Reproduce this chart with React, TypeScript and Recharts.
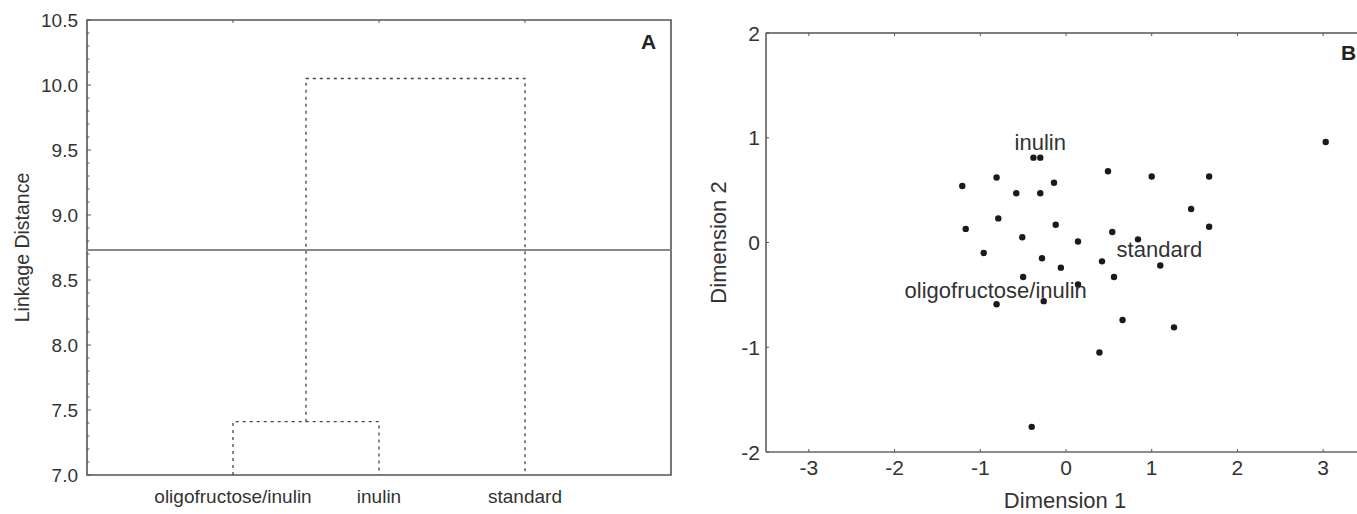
import React from "react";
import {
  LineChart,
  Line,
  XAxis,
  YAxis,
  ReferenceLine,
  ReferenceArea,
  ScatterChart,
  Scatter,
} from "recharts";

// ---- panel A: dendrogram ----
const LEAVES = ["oligofructose/inulin", "inulin", "standard"];
const LEAF_POS = [1, 2, 3];
const LEAF_BASE = 7.0;
const MERGE_HEIGHTS = [7.41, 10.05];
const CUT_HEIGHT = 8.73;
const A_Y_MAJOR = [7.0, 7.5, 8.0, 8.5, 9.0, 9.5, 10.0, 10.5];

// ---- panel B: MDS scatter ----
const DIM1 = [
  3.03, -0.38, -0.3, 0.49, 1.0, 1.67, -0.14, -0.3, 1.46, 1.67, -0.12, 0.54,
  0.14, 0.84, -0.51, -0.28, -0.06, 0.42, 1.1, 0.56, -0.5, 0.14, -0.26, 0.66,
  1.26, 0.39, -0.4, -1.21, -0.81, -0.58, -0.79, -1.17, -0.96, -0.81,
];
const DIM2 = [
  0.96, 0.81, 0.81, 0.68, 0.63, 0.63, 0.57, 0.47, 0.32, 0.15, 0.17, 0.1,
  0.01, 0.03, 0.05, -0.15, -0.24, -0.18, -0.22, -0.33, -0.33, -0.4, -0.56,
  -0.74, -0.81, -1.05, -1.76, 0.54, 0.62, 0.47, 0.23, 0.13, -0.1, -0.59,
];
const B_LABELS = ["inulin", "standard", "oligofructose/inulin"];
const B_LABEL_X = [-0.3, 1.09, -0.82];
const B_LABEL_Y = [0.96, -0.06, -0.45];
const B_X_TICKS = [-3, -2, -1, 0, 1, 2, 3];
const B_Y_TICKS = [-2, -1, 0, 1, 2];

const FONT = "'Liberation Sans', Arial, sans-serif";
const TEXT = "#333";
const FRAME = "#555";

const A_TOP = 20;
const A_BOTTOM = 475;
const B_TOP = 33;
const B_BOTTOM = 452;

function link(xl: number, yl: number, xr: number, yr: number, h: number) {
  return [
    { x: xl, y: yl },
    { x: xl, y: h },
    { x: xr, y: h },
    { x: xr, y: yr },
  ];
}

const link1 = link(LEAF_POS[0], LEAF_BASE, LEAF_POS[1], LEAF_BASE, MERGE_HEIGHTS[0]);
const link2 = link(
  (LEAF_POS[0] + LEAF_POS[1]) / 2,
  MERGE_HEIGHTS[0],
  LEAF_POS[2],
  LEAF_BASE,
  MERGE_HEIGHTS[1]
);

const aMinor: number[] = [];
for (let v = 70; v <= 105; v++) aMinor.push(v / 10);

const points = DIM1.map((x, i) => ({ x, y: DIM2[i] }));
const labels = B_LABELS.map((t, i) => ({ x: B_LABEL_X[i], y: B_LABEL_Y[i], t }));

const ATickLeft = (props: any) => {
  const { x, y, payload } = props;
  const v = payload.value as number;
  const major = A_Y_MAJOR.some((m) => Math.abs(m - v) < 1e-6);
  return (
    <g>
      <line x1={x} x2={x + (major ? 4 : 2.5)} y1={y} y2={y} stroke={FRAME} strokeWidth={1} />
      {major && (
        <text x={x - 9} y={y} dy="0.36em" textAnchor="end" fontSize={19} fill={TEXT} fontFamily={FONT}>
          {v.toFixed(1)}
        </text>
      )}
    </g>
  );
};

const ATickBottom = (props: any) => {
  const { x, y, payload } = props;
  const idx = LEAF_POS.indexOf(payload.value);
  return (
    <g>
      <line x1={x} x2={x} y1={A_TOP} y2={A_TOP + 3} stroke={FRAME} strokeWidth={1} />
      <text x={x} y={y + 21} dy="0.36em" textAnchor="middle" fontSize={19} fill={TEXT} fontFamily={FONT}>
        {LEAVES[idx]}
      </text>
    </g>
  );
};

const BTickBottom = (props: any) => {
  const { x, y, payload } = props;
  return (
    <g>
      <line x1={x} x2={x} y1={B_TOP} y2={B_TOP + 3} stroke={FRAME} strokeWidth={1} />
      <line x1={x} x2={x} y1={B_BOTTOM} y2={B_BOTTOM - 3} stroke={FRAME} strokeWidth={1} />
      <text x={x} y={y + 15} dy="0.36em" textAnchor="middle" fontSize={21} fill={TEXT} fontFamily={FONT}>
        {payload.value}
      </text>
    </g>
  );
};

const BTickLeft = (props: any) => {
  const { x, y, payload } = props;
  return (
    <g>
      <line x1={x} x2={x + 3} y1={y} y2={y} stroke={FRAME} strokeWidth={1} />
      <text x={x - 6} y={y} dy="0.36em" textAnchor="end" fontSize={21} fill={TEXT} fontFamily={FONT}>
        {payload.value}
      </text>
    </g>
  );
};

const Dot = (props: any) => <circle cx={props.cx} cy={props.cy} r={3.2} fill="#1a1a1a" />;

const LabelText = (props: any) => (
  <text
    x={props.cx}
    y={props.cy}
    dy="0.36em"
    textAnchor="middle"
    fontSize={22}
    fill={TEXT}
    fontFamily={FONT}
  >
    {props.payload.t}
  </text>
);

export default function App() {
  return (
    <div
      style={{
        position: "fixed",
        left: 0,
        top: 0,
        width: 1357,
        height: 514,
        overflow: "hidden",
        background: "#fff",
        fontFamily: FONT,
      }}
    >
      <div style={{ position: "absolute", left: 0, top: 0 }}>
        <LineChart width={690} height={514} margin={{ top: A_TOP, right: 19, bottom: 514 - A_BOTTOM - 1, left: 86 }}>
          <XAxis
            type="number"
            dataKey="x"
            domain={[0, 4]}
            ticks={LEAF_POS}
            interval={0}
            height={1}
            tickSize={0}
            tickMargin={0}
            axisLine={false}
            tickLine={false}
            tick={<ATickBottom />}
          />
          <YAxis
            type="number"
            domain={[7, 10.5]}
            ticks={aMinor}
            interval={0}
            width={1}
            tickSize={0}
            tickMargin={0}
            axisLine={false}
            tickLine={false}
            tick={<ATickLeft />}
            label={{
              content: () => (
                <text
                  x={22}
                  y={(A_TOP + A_BOTTOM) / 2}
                  transform={`rotate(-90 22 ${(A_TOP + A_BOTTOM) / 2})`}
                  textAnchor="middle"
                  dy="0.36em"
                  fontSize={19.5}
                  fill={TEXT}
                  fontFamily={FONT}
                >
                  Linkage Distance
                </text>
              ),
            }}
          />
          <ReferenceArea x1={0} x2={4} y1={7} y2={10.5} fill="none" stroke={FRAME} strokeWidth={1.6} />
          <ReferenceLine y={CUT_HEIGHT} stroke="#8a8a8a" strokeWidth={2} />
          <Line
            data={link1}
            dataKey="y"
            type="linear"
            stroke="#444"
            strokeWidth={1.3}
            strokeDasharray="3 4"
            dot={false}
            isAnimationActive={false}
          />
          <Line
            data={link2}
            dataKey="y"
            type="linear"
            stroke="#444"
            strokeWidth={1.3}
            strokeDasharray="3 4"
            dot={false}
            isAnimationActive={false}
          />
        </LineChart>
        <div
          style={{
            position: "absolute",
            left: 641,
            top: 30,
            fontSize: 21,
            fontWeight: "bold",
            color: "#222",
            fontFamily: FONT,
          }}
        >
          A
        </div>
      </div>

      <div style={{ position: "absolute", left: 690, top: 0 }}>
        <ScatterChart width={700} height={514} margin={{ top: B_TOP, right: 24, bottom: 514 - B_BOTTOM - 1, left: 75 }}>
          <XAxis
            type="number"
            dataKey="x"
            domain={[-3.5, 3.5]}
            ticks={B_X_TICKS}
            interval={0}
            height={1}
            tickSize={0}
            tickMargin={0}
            axisLine={false}
            tickLine={false}
            tick={<BTickBottom />}
            label={{
              content: () => (
                <text
                  x={1065 - 690}
                  y={500}
                  textAnchor="middle"
                  dy="0.36em"
                  fontSize={22}
                  fill={TEXT}
                  fontFamily={FONT}
                >
                  Dimension 1
                </text>
              ),
            }}
          />
          <YAxis
            type="number"
            dataKey="y"
            domain={[-2, 2]}
            ticks={B_Y_TICKS}
            interval={0}
            width={1}
            tickSize={0}
            tickMargin={0}
            axisLine={false}
            tickLine={false}
            tick={<BTickLeft />}
            label={{
              content: () => (
                <text
                  x={718 - 690}
                  y={(B_TOP + B_BOTTOM) / 2}
                  transform={`rotate(-90 ${718 - 690} ${(B_TOP + B_BOTTOM) / 2})`}
                  textAnchor="middle"
                  dy="0.36em"
                  fontSize={22}
                  fill={TEXT}
                  fontFamily={FONT}
                >
                  Dimension 2
                </text>
              ),
            }}
          />
          <ReferenceLine y={2} stroke={FRAME} strokeWidth={1.5} />
          <ReferenceLine x={-3.5} stroke={FRAME} strokeWidth={1.5} />
          <ReferenceLine y={-2} stroke="#8c8c8c" strokeWidth={2} />
          <Scatter data={points} shape={<Dot />} isAnimationActive={false} />
          <Scatter data={labels} shape={<LabelText />} isAnimationActive={false} />
        </ScatterChart>
        <div
          style={{
            position: "absolute",
            left: 1341 - 690,
            top: 41,
            fontSize: 21,
            fontWeight: "bold",
            color: "#222",
            fontFamily: FONT,
          }}
        >
          B
        </div>
      </div>
    </div>
  );
}
